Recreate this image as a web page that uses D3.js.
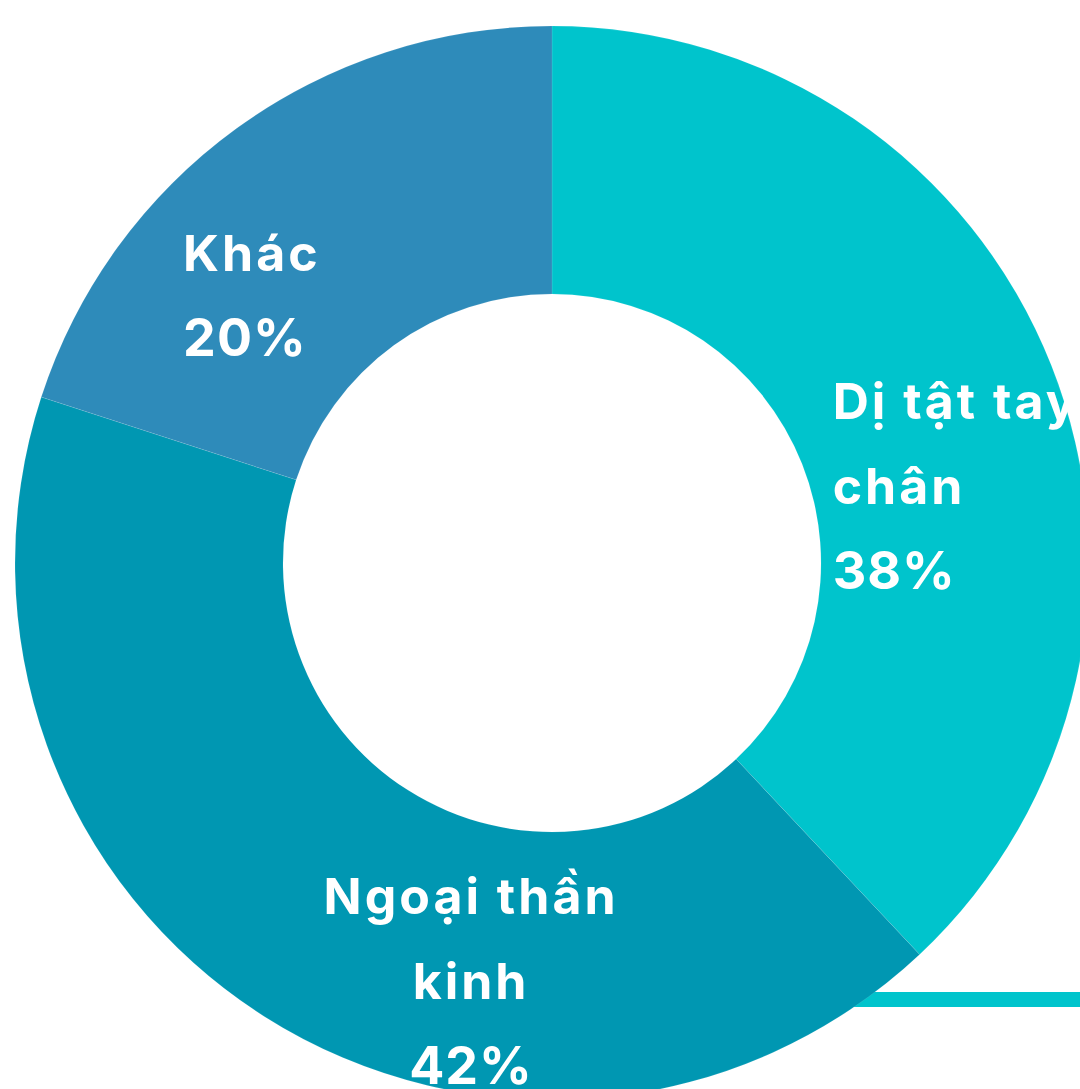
<!DOCTYPE html>
<html>
<head>
<meta charset="utf-8">
<script src="https://cdn.jsdelivr.net/npm/d3@7"></script>
<style>
  html, body { margin: 0; padding: 0; background: #fff; overflow: hidden; }
  svg { display: block; }
</style>
</head>
<body>
<div id="chart"></div>
<script>
// Chart data
const categories = ["Dị tật tay chân", "Ngoại thần kinh", "Khác"];
const values = [38, 42, 20];
const nameLines = [["Dị tật tay", "chân"], ["Ngoại thần", "kinh"], ["Khác"]];
const colors = ["#00c4cc", "#0097b2", "#2e8bba"];

const width = 1080;
const height = 1089;
const cx = 552, cy = 563;
const outerR = 537, innerR = 269;

const svg = d3.select("#chart")
  .append("svg")
  .attr("width", width)
  .attr("height", height);

// thin cyan bar sitting behind the donut
svg.append("rect")
  .attr("x", 850)
  .attr("y", 992)
  .attr("width", width - 850)
  .attr("height", 15)
  .attr("fill", colors[0]);

const g = svg.append("g")
  .attr("transform", `translate(${cx},${cy})`);

const pie = d3.pie().sort(null).value(d => d.value);
const arc = d3.arc().innerRadius(innerR).outerRadius(outerR);

const data = categories.map((c, i) => ({ name: c, value: values[i], lines: nameLines[i], color: colors[i] }));
const arcs = pie(data);

g.selectAll("path.slice")
  .data(arcs)
  .join("path")
  .attr("class", "slice")
  .attr("d", arc)
  .attr("fill", d => d.data.color)
  .attr("stroke", "rgba(255,255,255,0.2)")
  .attr("stroke-width", 0.5);

// label layout: offset from the arc centroid, text anchor
const labelLayout = {
  "Dị tật tay chân": { dx: -94, dy: 4, anchor: "start" },
  "Ngoại thần kinh": { dx: 135, dy: 11, anchor: "middle" },
  "Khác": { dx: -132, dy: 34, anchor: "start" }
};
const lineH = 85;

const labels = g.selectAll("text.label")
  .data(arcs)
  .join("text")
  .attr("class", "label")
  .attr("fill", "#fff")
  .attr("font-family", "Inter, 'Noto Sans', sans-serif")
  .attr("font-weight", 700)
  .attr("text-anchor", d => labelLayout[d.data.name].anchor)
  .attr("transform", d => {
    const [x, y] = arc.centroid(d);
    const l = labelLayout[d.data.name];
    return `translate(${x + l.dx},${y + l.dy})`;
  });

labels.each(function (d) {
  const t = d3.select(this);
  const lines = d.data.lines.concat([d.data.value + "%"]);
  lines.forEach((s, i) => {
    const last = i === lines.length - 1;
    t.append("tspan")
      .attr("x", 0)
      .attr("y", i * lineH)
      .attr("font-size", last ? 52 : 50)
      .attr("letter-spacing", last ? "1px" : "3px")
      .text(s);
  });
});
</script>
</body>
</html>
